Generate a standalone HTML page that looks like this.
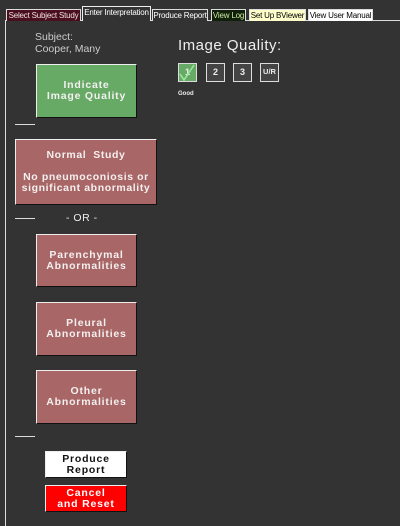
<!DOCTYPE html>
<html><head><style>
*{margin:0;padding:0;box-sizing:border-box}
body{width:400px;height:526px;background:#333;position:relative;overflow:hidden;font-family:"Liberation Sans",sans-serif}
.a{position:absolute}
.tab{position:absolute;top:9px;height:12px;font-size:8px;line-height:11px;text-align:center;border:1px solid #ddd;border-bottom:none;white-space:nowrap;letter-spacing:-0.2px}
.btn{position:absolute;border-top:1px solid #eee;border-left:1px solid #eee;border-right:1px solid #111;border-bottom:1px solid #111;color:#f4f0f0;font-weight:bold;font-size:10.5px;text-align:center;display:flex;align-items:center;justify-content:center;letter-spacing:0.8px;line-height:11px}
.red{background:#a86666}
.line{position:absolute;height:1px;background:#ddd;width:20px;left:15px}
.q{position:absolute;top:63px;width:19px;height:19px;border:1.5px solid #ddd;background:#444;color:#eee;font-size:9px;font-weight:bold;text-align:center;line-height:16px}
</style></head><body>
<div class="a" style="left:5px;top:20px;width:395px;height:1px;background:#ddd"></div>
<div class="a" style="left:5px;top:20px;width:1px;height:506px;background:#ddd"></div>
<div class="tab" style="left:6px;width:75px;background:#4a0f1e;color:#f0e0e0">Select Subject Study</div>
<div class="tab" style="left:82px;top:6px;height:15px;width:69px;background:#333;color:#fff;border-color:#eee">Enter Interpretation</div>
<div class="tab" style="left:152px;width:56px;background:#333;color:#fff">Produce Report</div>
<div class="tab" style="left:211px;width:35px;background:#0f1f0a;color:#cfe8a0">View Log</div>
<div class="tab" style="left:249px;width:57px;background:#ffffcc;color:#000">Set Up BViewer</div>
<div class="tab" style="left:308px;width:65px;background:#fff;color:#000">View User Manual</div>

<div class="a" style="left:35px;top:31px;color:#ccc;font-size:10.5px;line-height:12px">Subject:<br>Cooper, Many</div>
<div class="a" style="left:178px;top:37px;color:#eee;font-size:15px;letter-spacing:0.5px">Image Quality:</div>
<div class="q" style="left:178px;background:#66aa66">1<svg class="a" style="left:0;top:0" width="17" height="17"><path d="M1 10 L5 16 L15 1" stroke="#9ee89e" stroke-width="1.5" fill="none"/></svg></div>
<div class="q" style="left:206px">2</div>
<div class="q" style="left:233px">3</div>
<div class="q" style="left:260px;font-size:7.5px">U/R</div>
<div class="a" style="left:178px;top:91px;color:#eee;font-size:6px;font-weight:bold">Good</div>

<div class="btn" style="left:36px;top:64px;width:101px;height:54px;background:#66aa66">Indicate<br>Image Quality</div>
<div class="line" style="top:124px"></div>
<div class="btn red" style="left:15px;top:139px;width:142px;height:66px;letter-spacing:0.6px">Normal&nbsp; Study<br><br>No pneumoconiosis or<br>significant abnormality</div>
<div class="line" style="top:218px"></div>
<div class="a" style="left:66px;top:212px;color:#eee;font-size:10.5px;letter-spacing:0.5px">- OR -</div>
<div class="btn red" style="left:36px;top:234px;width:101px;height:53px">Parenchymal<br>Abnormalities</div>
<div class="btn red" style="left:36px;top:302px;width:101px;height:54px">Pleural<br>Abnormalities</div>
<div class="btn red" style="left:36px;top:370px;width:101px;height:54px">Other<br>Abnormalities</div>
<div class="line" style="top:436px"></div>
<div class="btn" style="left:45px;top:451px;width:82px;height:27px;background:#fff;color:#111">Produce<br>Report</div>
<div class="btn" style="left:45px;top:485px;width:82px;height:27px;background:#ff0000;color:#fff">Cancel<br>and Reset</div>
</body></html>
